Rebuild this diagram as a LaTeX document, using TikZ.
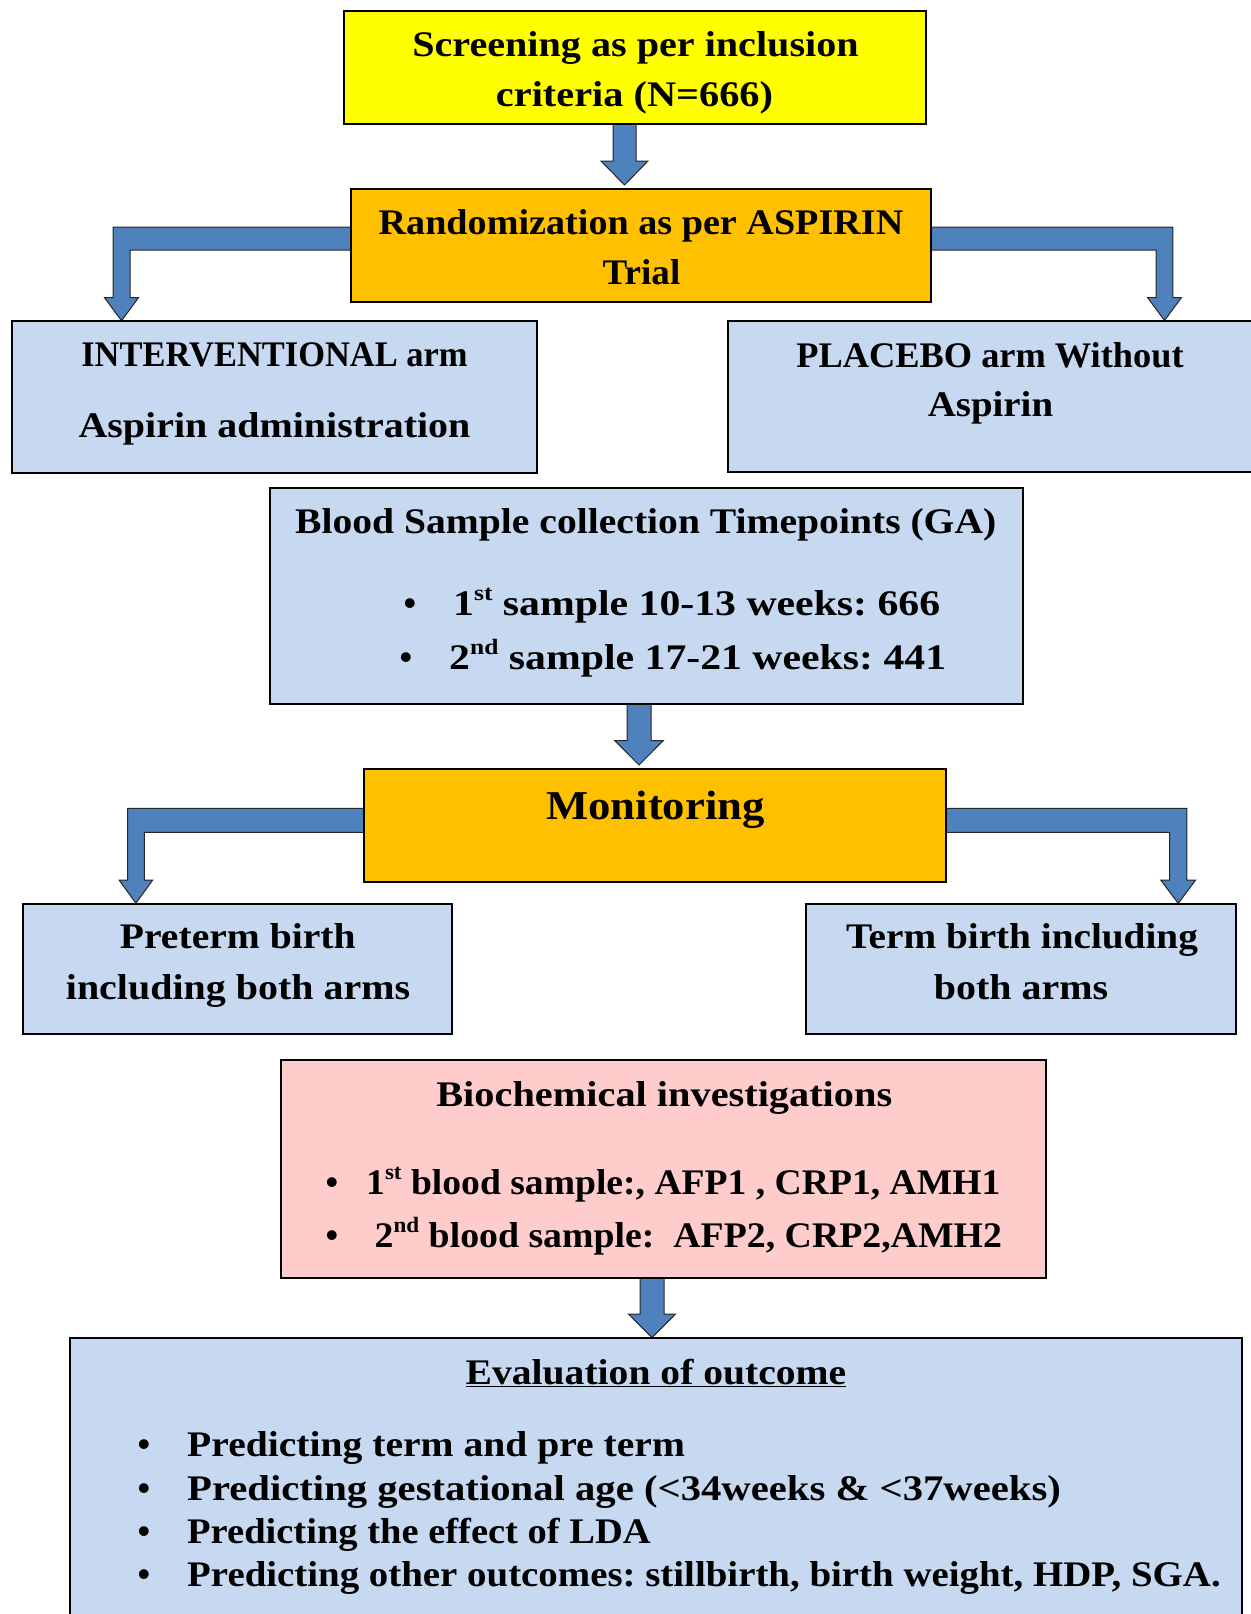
\documentclass[tikz,border=0pt]{standalone}
\usepackage{graphicx}
\usepackage{fontspec}
\setmainfont{Liberation Serif}
\usetikzlibrary{calc}
\definecolor{cYel}{HTML}{FFFF00}
\definecolor{cOra}{HTML}{FFC000}
\definecolor{cBlu}{HTML}{C6D9F1}
\definecolor{cPnk}{HTML}{FFCCCC}
\definecolor{cArr}{HTML}{4F81BD}
\newcommand\hs[2]{\scalebox{#1}[1]{#2}}
\newcommand\sups[1]{\raisebox{15pt}{\fontsize{22}{22}\selectfont #1}}
% straight block arrow: start, tip, half shaft, half head, head length
\newcommand\darrow[5]{%
  \filldraw[barrow] let \p1=(#1), \p2=(#2) in
    (\x2-#3pt,\y1) -- (\x2-#3pt,\y2+#5pt) -- (\x2-#4pt,\y2+#5pt) -- (\x2,\y2)
    -- (\x2+#4pt,\y2+#5pt) -- (\x2+#3pt,\y2+#5pt) -- (\x2+#3pt,\y1) -- cycle;}
% elbow block arrow: start, tip, direction (+1 right, -1 left), half band, half shaft, half head, head length
\newcommand\earrow[7]{%
  \filldraw[barrow] let \p1=(#1), \p2=(#2) in
    (\x1,{\y1+#4pt}) -- ({\x2+(#3)*#5pt},{\y1+#4pt}) -- ({\x2+(#3)*#5pt},{\y2+#7pt})
    -- ({\x2+(#3)*#6pt},{\y2+#7pt}) -- (\x2,\y2) -- ({\x2-(#3)*#6pt},{\y2+#7pt})
    -- ({\x2-(#3)*#5pt},{\y2+#7pt}) -- ({\x2-(#3)*#5pt},{\y1-#4pt}) -- (\x1,{\y1-#4pt}) -- cycle;}
\frenchspacing
\begin{document}
\begin{tikzpicture}[x=1pt,y=-1pt,
  barrow/.style={fill=cArr, draw=black!85, line width=1pt, line join=miter},
  box/.style={draw=black, line width=2pt, inner sep=0pt},
  txt/.style={inner sep=0pt, anchor=base, font=\bfseries\fontsize{36}{43}\selectfont},
  txtl/.style={txt, anchor=base west}]
\useasboundingbox (0,0) rectangle (1250,1614);
\fill[white] (0,0) rectangle (1250,1614);

% connector coordinates
\coordinate (a1s) at (624.5,124);  \coordinate (a1t) at (624.5,185);
\coordinate (a2s) at (639,704);    \coordinate (a2t) at (639,765);
\coordinate (a3s) at (652,1278);   \coordinate (a3t) at (652,1337.7);
\coordinate (e1s) at (351,238.5);  \coordinate (e1t) at (121.5,320.7);
\coordinate (e2s) at (931,238.5);  \coordinate (e2t) at (1164.5,320.5);
\coordinate (e3s) at (364,820.3);  \coordinate (e3t) at (135.9,903.3);
\coordinate (e4s) at (945.5,820.3);\coordinate (e4t) at (1178.2,903.3);

\darrow{a1s}{a1t}{11.5}{23.5}{24}
\darrow{a2s}{a2t}{12}{24.2}{24.3}
\darrow{a3s}{a3t}{12}{23.5}{23.7}
\earrow{e1s}{e1t}{-1}{11.5}{8.5}{17}{23}
\earrow{e2s}{e2t}{1}{11.5}{8.4}{17}{23}
\earrow{e3s}{e3t}{-1}{12}{8.4}{16.8}{23.3}
\earrow{e4s}{e4t}{1}{12}{8.7}{17.5}{23.3}

% boxes
\node[box, fill=cYel, minimum width=581.5pt, minimum height=113.6pt] (scr) at (634.75,67.5) {};
\node[box, fill=cOra, minimum width=580pt, minimum height=113.6pt] (rnd) at (641,245.5) {};
\node[box, fill=cBlu, minimum width=524.5pt, minimum height=152.3pt] (int) at (274.25,397.15) {};
\node[box, fill=cBlu, minimum width=527pt, minimum height=150.7pt] (plc) at (991.5,396.35) {};
\node[box, fill=cBlu, minimum width=753.5pt, minimum height=216.6pt] (bld) at (646.25,596) {};
\node[box, fill=cOra, minimum width=581.5pt, minimum height=113.6pt] (mon) at (654.75,825.5) {};
\node[box, fill=cBlu, minimum width=429pt, minimum height=130.3pt] (pre) at (237.5,969.15) {};
\node[box, fill=cBlu, minimum width=429.7pt, minimum height=130pt] (trm) at (1020.85,969) {};
\node[box, fill=cPnk, minimum width=765.4pt, minimum height=218pt] (bio) at (663.3,1169) {};
\node[box, fill=cBlu, minimum width=1172pt, minimum height=302pt] (evl) at (656,1489) {};

% texts
\node[txt] (t1) at (635.5,56.7) {\hs{1.115}{Screening as per inclusion}};
\node[txt] (t2) at (634.5,106) {\hs{1.12}{criteria (N=666)}};
\node[txt] (t3) at (641,234.3) {\hs{1.06}{Randomization as per ASPIRIN}};
\node[txt] (t4) at (641.5,284) {\hs{1.03}{Trial}};
\node[txt] (t5) at (274.5,366.7) {\hs{0.957}{INTERVENTIONAL arm}};
\node[txt] (t6) at (274.5,437.3) {\hs{1.11}{Aspirin administration}};
\node[txt] (t7) at (990,367.7) {\hs{1.01}{PLACEBO arm Without}};
\node[txt] (t8) at (990.5,416.7) {\hs{1.08}{Aspirin}};
\node[txt] (t9) at (645.75,533.3) {\hs{1.10}{Blood Sample collection Timepoints (GA)}};
\node[txt] (b1) at (410,615) {\textbullet};
\node[txtl] (t10) at (453,615) {\hs{1.16}{1\sups{st} sample 10-13 weeks: 666}};
\node[txt] (b2) at (406,669) {\textbullet};
\node[txtl] (t11) at (449,669) {\hs{1.16}{2\sups{nd} sample 17-21 weeks: 441}};
\node[txt, font=\bfseries\fontsize{41}{49}\selectfont] (t12) at (655.5,819) {\hs{1.09}{Monitoring}};
\node[txt] (t13) at (237.75,948.3) {\hs{1.10}{Preterm birth}};
\node[txt] (t14) at (238,999) {\hs{1.11}{including both arms}};
\node[txt] (t15) at (1022,948.3) {\hs{1.09}{Term birth including}};
\node[txt] (t16) at (1021,999) {\hs{1.11}{both arms}};
\node[txt] (t17) at (664.25,1106) {\hs{1.12}{Biochemical investigations}};
\node[txt] (b3) at (332,1194) {\textbullet};
\node[txtl] (t18) at (366,1194) {\hs{1.045}{1\sups{st} blood sample:, AFP1 , CRP1, AMH1}};
\node[txt] (b4) at (332,1247.3) {\textbullet};
\node[txtl] (t19) at (374.5,1247.3) {\hs{1.05}{2\sups{nd} blood sample:\ \ AFP2, CRP2,AMH2}};
\node[txt] (t20) at (656,1384) {\hs{1.10}{\underline{Evaluation of outcome}}};
\node[txt] (b5) at (144,1456) {\textbullet};
\node[txtl] (t21) at (187,1456) {\hs{1.10}{Predicting term and pre term}};
\node[txt] (b6) at (144,1500) {\textbullet};
\node[txtl] (t22) at (187,1500) {\hs{1.13}{Predicting gestational age (<34weeks \& <37weeks)}};
\node[txt] (b7) at (144,1543.3) {\textbullet};
\node[txtl] (t23) at (187,1543.3) {\hs{1.07}{Predicting the effect of LDA}};
\node[txt] (b8) at (144,1586.7) {\textbullet};
\node[txtl] (t24) at (187,1586.7) {\hs{1.08}{Predicting other outcomes: stillbirth, birth weight, HDP, SGA.}};
\end{tikzpicture}
\end{document}
